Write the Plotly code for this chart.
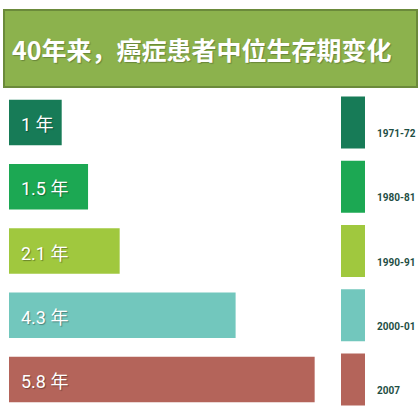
import plotly.graph_objects as go

# chart content
title_text = "40年来，癌症患者中位生存期变化"
periods = ["1971-72", "1980-81", "1990-91", "2000-01", "2007"]
survival_years = [1, 1.5, 2.1, 4.3, 5.8]
bar_labels = ["1 年", "1.5 年", "2.1 年", "4.3 年", "5.8 年"]
bar_colors = ["#177b57", "#1ca853", "#a0c83e", "#72c7bd", "#b4645a"]

W = H = 420
NARROW = "Liberation Sans Narrow, Roboto, Noto Sans CJK SC, sans-serif"
CJK = "Noto Sans CJK SC, Noto Sans, sans-serif"


def fx(px):
    return px / W


def fy(px):
    return 1 - px / H


fig = go.Figure()

# main bars
fig.add_trace(
    go.Bar(
        y=periods,
        x=survival_years,
        orientation="h",
        width=0.71,
        marker=dict(color=bar_colors, line_width=0),
        xaxis="x",
        yaxis="y",
        hoverinfo="skip",
        showlegend=False,
    )
)
# colour key swatches on the right
fig.add_trace(
    go.Bar(
        y=periods,
        x=[1] * len(periods),
        orientation="h",
        width=0.81,
        marker=dict(color=bar_colors, line_width=0),
        xaxis="x2",
        yaxis="y",
        hoverinfo="skip",
        showlegend=False,
    )
)

annotations = []
# category axis: place by index, "2007" would otherwise be read as a position
for i, (period, label) in enumerate(zip(periods, bar_labels)):
    annotations.append(
        dict(
            x=0, y=i, xref="x", yref="y",
            text=label, xanchor="left", xshift=10, yshift=-2,
            showarrow=False,
            font=dict(family=NARROW, size=18, color="white",
                      shadow="1px 1px 1px rgba(0,0,0,0.35)"),
        )
    )
    annotations.append(
        dict(
            x=fx(375), y=i, xref="paper", yref="y",
            text="<b>%s</b>" % period, xanchor="left", yshift=-11,
            showarrow=False,
            font=dict(family=NARROW, size=10, color="#1f4f45"),
        )
    )

annotations.append(
    dict(
        x=fx(10), y=fy(49), xref="paper", yref="paper",
        text="<b>%s</b>" % title_text, xanchor="left", yanchor="middle",
        showarrow=False,
        font=dict(family=CJK, size=25, color="white",
                  shadow="1px 1px 1px rgba(0,0,0,0.25)"),
    )
)

fig.update_layout(
    width=W,
    height=H,
    autosize=False,
    margin=dict(l=0, r=0, t=0, b=0),
    paper_bgcolor="white",
    plot_bgcolor="white",
    xaxis=dict(domain=[fx(9), fx(9 + 6 * 52.7)], range=[0, 6],
               visible=False, fixedrange=True),
    xaxis2=dict(domain=[fx(341), fx(365)], range=[0, 1], anchor="y",
                visible=False, fixedrange=True),
    yaxis=dict(domain=[fy(411.6), fy(90.4)], range=[4.5, -0.5],
               type="category", visible=False, fixedrange=True),
    shapes=[
        dict(type="rect", xref="paper", yref="paper",
             x0=fx(4), x1=fx(417), y0=fy(87), y1=fy(10),
             fillcolor="#8cb24d", line=dict(color="#6b8a3b", width=2),
             layer="below"),
    ],
    annotations=annotations,
)

# drop the browser's default page margin so the 420px figure fills the window
fig.write_html(
    "out.html",
    config={"displayModeBar": False},
    post_script="document.body.style.margin='0';",
)
